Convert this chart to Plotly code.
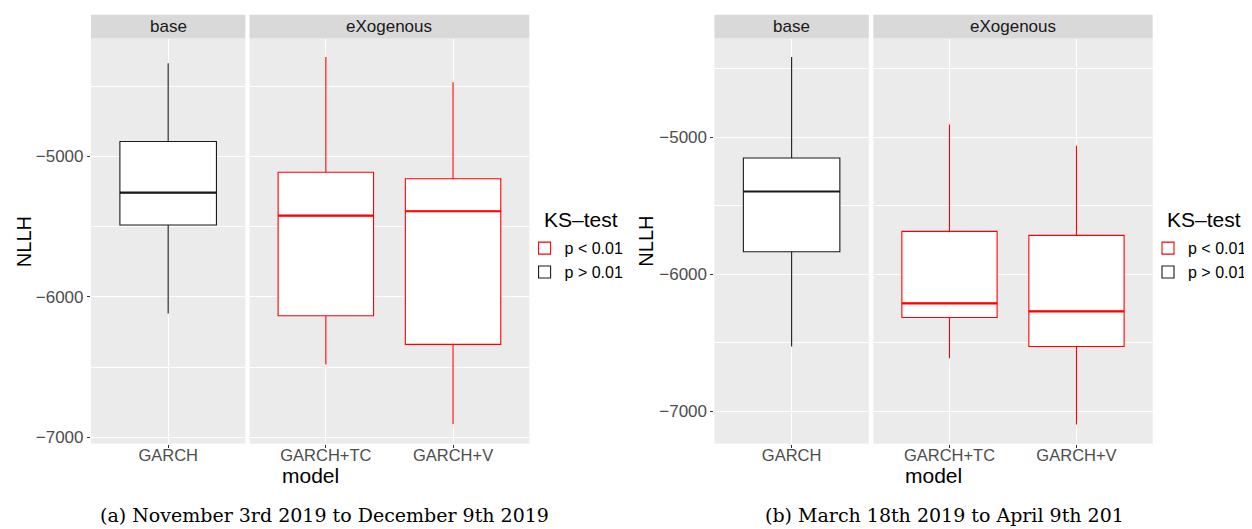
import plotly.graph_objects as go

# ---------------- data ----------------
base_models = ["GARCH"]
exo_models = ["GARCH+TC", "GARCH+V"]

# chart (a): November 3rd 2019 to December 9th 2019
a_base_low = [-6119]
a_base_q1 = [-5488]
a_base_med = [-5257]
a_base_q3 = [-4893]
a_base_high = [-4336]
a_exo_low = [-6481, -6905]
a_exo_q1 = [-6134, -6338]
a_exo_med = [-5421, -5390]
a_exo_q3 = [-5112, -5159]
a_exo_high = [-4291, -4471]

# chart (b): March 18th 2019 to April 9th 201
b_base_low = [-6528]
b_base_q1 = [-5836]
b_base_med = [-5396]
b_base_q3 = [-5151]
b_base_high = [-4413]
b_exo_low = [-6614, -7098]
b_exo_q1 = [-6316, -6528]
b_exo_med = [-6213, -6271]
b_exo_q3 = [-5687, -5716]
b_exo_high = [-4907, -5061]

ks_labels = ["p < 0.01", "p > 0.01"]
facet_labels = ["base", "eXogenous"]
legend_title = "KS\u2013test"
captions = ["(a) November 3rd 2019 to December 9th 2019",
            "(b) March 18th 2019 to April 9th 201"]

# ---------------- styling ----------------
PAGE_W, PAGE_H = 1252, 529
OFF = 8  # default page body margin
W, H = PAGE_W - OFF, PAGE_H - OFF
RED = "#FF0000"
BLACK = "#1A1A1A"
PANEL = "#EBEBEB"
STRIP = "#D9D9D9"
BOXW = 0.75
FONT = "Liberation Sans, Arial, sans-serif"
TICK_SIZE = 17
XTICK_SIZE = 16.5


def px_x(v):
    return (v - OFF) / W


def px_y(v):
    return (H - (v - OFF)) / H


fig = go.Figure()


def add_boxes(xa, ya, models, low, q1, med, q3, high, color, legend, name, show):
    pos = list(range(len(models)))
    fig.add_trace(go.Box(
        x=pos, q1=q1, median=med, q3=q3, lowerfence=low, upperfence=high,
        xaxis=xa, yaxis=ya, width=BOXW, whiskerwidth=0,
        fillcolor="white", line=dict(color=color, width=1.1),
        boxpoints=False, name=name, legend=legend, showlegend=show,
        legendrank=1 if color == RED else 2, hoverinfo="skip",
    ))
    for p, m in zip(pos, med):
        fig.add_trace(go.Scatter(
            x=[p - BOXW / 2, p + BOXW / 2], y=[m, m], mode="lines",
            line=dict(color=color, width=2.2), xaxis=xa, yaxis=ya,
            showlegend=False, hoverinfo="skip",
        ))


add_boxes("x", "y", base_models, a_base_low, a_base_q1, a_base_med, a_base_q3, a_base_high,
          BLACK, "legend", ks_labels[1], True)
add_boxes("x2", "y2", exo_models, a_exo_low, a_exo_q1, a_exo_med, a_exo_q3, a_exo_high,
          RED, "legend", ks_labels[0], True)
add_boxes("x3", "y3", base_models, b_base_low, b_base_q1, b_base_med, b_base_q3, b_base_high,
          BLACK, "legend2", ks_labels[1], True)
add_boxes("x4", "y4", exo_models, b_exo_low, b_exo_q1, b_exo_med, b_exo_q3, b_exo_high,
          RED, "legend2", ks_labels[0], True)

# panel geometry (page pixels)
panels = {
    "x": (91, 245.6, base_models),
    "x2": (249.7, 529.8, exo_models),
    "x3": (715, 869.5, base_models),
    "x4": (874, 1153.6, exo_models),
}
y_strip, y_top, y_bot = 14.8, 38.8, 447
ydom = [px_y(y_bot), px_y(y_top)]

layout = dict(
    width=W, height=H, margin=dict(l=0, r=0, t=0, b=0),
    paper_bgcolor="white", plot_bgcolor=PANEL,
    font=dict(family=FONT, color="#4D4D4D"),
)

yaxis_common = dict(
    domain=ydom, showline=False, zeroline=False,
    showgrid=True, gridcolor="white", gridwidth=1.1,
    dtick=1000, tick0=0,
    minor=dict(showgrid=True, gridcolor="white", gridwidth=0.5, dtick=500, tick0=0),
    tickfont=dict(size=TICK_SIZE, color="#4D4D4D", family=FONT),
    fixedrange=True,
)

for key, (x0, x1, models) in panels.items():
    n = len(models)
    layout[key.replace("x", "xaxis")] = dict(
        domain=[px_x(x0), px_x(x1)],
        range=[-0.6, n - 0.4],
        tickvals=list(range(n)), ticktext=models,
        ticks="outside", ticklen=3, tickcolor="#333333", tickwidth=1,
        ticklabelstandoff=-6,
        showgrid=True, gridcolor="white", gridwidth=1.1,
        zeroline=False, showline=False,
        anchor=key.replace("x", "y"),
        tickfont=dict(size=XTICK_SIZE, color="#4D4D4D", family=FONT),
        fixedrange=True,
    )

layout["yaxis"] = dict(yaxis_common, anchor="x", range=[-7045, -4160],
                       ticks="outside", ticklen=3, tickcolor="#333333", tickwidth=1)
layout["yaxis2"] = dict(yaxis_common, anchor="x2", matches="y", showticklabels=False, ticks="")
layout["yaxis3"] = dict(yaxis_common, anchor="x3", range=[-7237, -4279],
                        ticks="outside", ticklen=3, tickcolor="#333333", tickwidth=1)
layout["yaxis4"] = dict(yaxis_common, anchor="x4", matches="y3", showticklabels=False, ticks="")

legend_common = dict(
    xanchor="left", yanchor="top", bgcolor="rgba(0,0,0,0)",
    font=dict(size=16, color="#000000", family=FONT),
    traceorder="normal", tracegroupgap=0, itemwidth=30,
)
layout["legend"] = dict(legend_common, x=px_x(525), y=px_y(233))
layout["legend2"] = dict(legend_common, x=px_x(1149), y=px_y(233))

fig.update_layout(**layout)

# strips, strip labels
shapes = []
annotations = []
for key, (x0, x1, models) in panels.items():
    label = facet_labels[0] if len(models) == 1 else facet_labels[1]
    shapes.append(dict(type="rect", xref="paper", yref="paper",
                       x0=px_x(x0), x1=px_x(x1), y0=px_y(y_top), y1=px_y(y_strip),
                       fillcolor=STRIP, line=dict(width=0), layer="below"))
    annotations.append(dict(text=label, xref="paper", yref="paper",
                            x=(px_x(x0) + px_x(x1)) / 2, y=(px_y(y_top) + px_y(y_strip)) / 2,
                            showarrow=False, font=dict(size=17, color="#1A1A1A", family=FONT),
                            xanchor="center", yanchor="middle"))

# axis titles and legend titles
for xc, yl_x, lt_x in [((91 + 529.8) / 2, 24, 542), ((715 + 1153.6) / 2, 647, 1166)]:
    annotations.append(dict(text="model", xref="paper", yref="paper",
                            x=px_x(xc), y=px_y(479.5), showarrow=False,
                            font=dict(size=21, color="#000000", family=FONT),
                            xanchor="center", yanchor="middle"))
    annotations.append(dict(text="NLLH", xref="paper", yref="paper",
                            x=px_x(yl_x), y=px_y(243), showarrow=False, textangle=-90,
                            font=dict(size=20, color="#000000", family=FONT),
                            xanchor="center", yanchor="middle"))
    annotations.append(dict(text=legend_title, xref="paper", yref="paper",
                            x=px_x(lt_x), y=px_y(221), showarrow=False,
                            font=dict(size=21, color="#000000", family=FONT),
                            xanchor="left", yanchor="middle"))

# captions
for cap, x0c in zip(captions, [98, 764]):
    annotations.append(dict(text=cap, xref="paper", yref="paper",
                            x=px_x(x0c), y=px_y(519), showarrow=False,
                            font=dict(size=19, color="#000000",
                                      family="DejaVu Serif, Liberation Serif, serif"),
                            xanchor="left", yanchor="middle"))

fig.update_layout(shapes=shapes, annotations=annotations)

fig.write_html("out.html")
